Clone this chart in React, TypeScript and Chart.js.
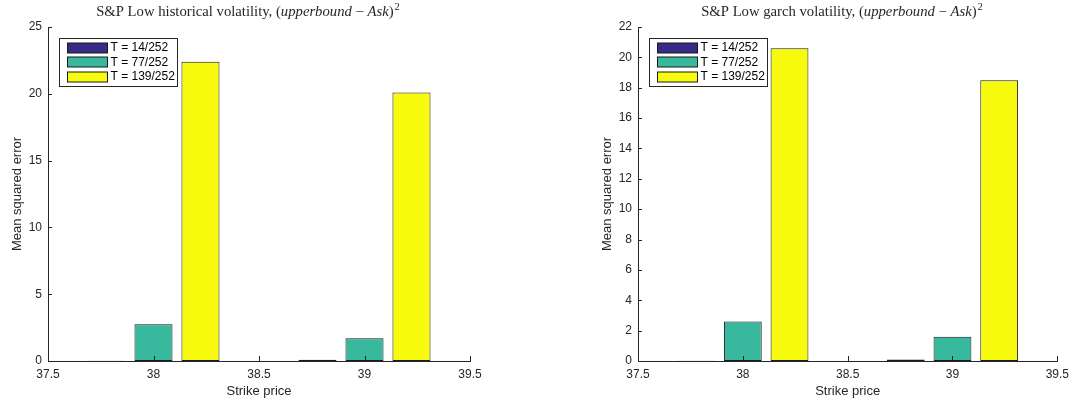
import React, { useEffect, useRef } from "react";
import { Chart, registerables } from "chart.js";

Chart.register(...registerables);

// ---- data ----
const strikes = [38, 39];
const seriesLabels = ["T = 14/252", "T = 77/252", "T = 139/252"];
const seriesColors = ["#352A87", "#38B89C", "#F9FB0E"];

const histT14 = [0.02, 0.1];
const histT77 = [2.75, 1.7];
const histT139 = [22.4, 20.1];

const garchT14 = [0.02, 0.1];
const garchT77 = [2.6, 1.6];
const garchT139 = [20.6, 18.5];

const xMin = 37.5;
const xMax = 39.5;
const xStep = 0.5;

const histYMax = 25;
const histYStep = 5;
const garchYMax = 22;
const garchYStep = 2;

type Seg = { t: string; it?: boolean; sup?: boolean };
const histTitle: Seg[] = [
  { t: "S&P Low historical volatility, (" },
  { t: "upperbound", it: true },
  { t: " \u2212 " },
  { t: "Ask", it: true },
  { t: ")" },
  { t: "2", sup: true },
];
const garchTitle: Seg[] = [
  { t: "S&P Low garch volatility, (" },
  { t: "upperbound", it: true },
  { t: " \u2212 " },
  { t: "Ask", it: true },
  { t: ")" },
  { t: "2", sup: true },
];

const xLabel = "Strike price";
const yLabel = "Mean squared error";

const AXIS = "#262626";
const SANS = "'Liberation Sans', Arial, Helvetica, sans-serif";
const SERIF = "'Liberation Serif', 'Times New Roman', serif";

function makePlugins(title: Seg[], titleCenter: number) {
  const titlePlugin = {
    id: "mixedTitle",
    afterDraw(chart: any) {
      const ctx = chart.ctx as CanvasRenderingContext2D;
      ctx.save();
      ctx.fillStyle = AXIS;
      ctx.textBaseline = "alphabetic";
      const fontFor = (s: Seg) =>
        s.sup ? `10.5px ${SERIF}` : `${s.it ? "italic " : ""}14.7px ${SERIF}`;
      let total = 0;
      title.forEach((s) => {
        ctx.font = fontFor(s);
        total += ctx.measureText(s.t).width + (s.sup ? 1 : 0);
      });
      let x = titleCenter - total / 2;
      const base = 16;
      title.forEach((s) => {
        ctx.font = fontFor(s);
        if (s.sup) x += 1;
        ctx.fillText(s.t, x, s.sup ? base - 6 : base);
        x += ctx.measureText(s.t).width;
      });
      ctx.restore();
    },
  };

  const tickPlugin = {
    id: "inwardTicks",
    afterDatasetsDraw(chart: any) {
      const { ctx, chartArea, scales } = chart;
      const xs = scales.x;
      const ys = scales.y;
      ctx.save();
      ctx.strokeStyle = AXIS;
      ctx.lineWidth = 1;
      ctx.beginPath();
      xs.ticks.forEach((t: any) => {
        const px = Math.round(xs.getPixelForValue(t.value)) + 0.5;
        ctx.moveTo(px, chartArea.bottom);
        ctx.lineTo(px, chartArea.bottom - 5);
      });
      ys.ticks.forEach((t: any) => {
        const py = Math.round(ys.getPixelForValue(t.value)) + 0.5;
        ctx.moveTo(chartArea.left, py);
        ctx.lineTo(chartArea.left + 4, py);
      });
      ctx.stroke();
      ctx.restore();
    },
  };

  const legendPlugin = {
    id: "boxLegend",
    afterDraw(chart: any) {
      const { ctx, chartArea } = chart;
      const bx = Math.round(chartArea.left) + 11.5;
      const by = Math.round(chartArea.top) + 11.5;
      const bw = 118;
      const bh = 48;
      ctx.save();
      ctx.fillStyle = "#ffffff";
      ctx.fillRect(bx, by, bw, bh);
      ctx.strokeStyle = AXIS;
      ctx.lineWidth = 1;
      ctx.strokeRect(bx, by, bw, bh);
      ctx.font = `12px ${SANS}`;
      ctx.textBaseline = "middle";
      chart.data.datasets.forEach((ds: any, i: number) => {
        const cy = by + 9 + i * 14.5;
        const sx = bx + 8;
        ctx.fillStyle = ds.backgroundColor;
        ctx.fillRect(sx, Math.round(cy - 5), 40, 10);
        ctx.strokeStyle = "#1a1a1a";
        ctx.strokeRect(sx, Math.round(cy - 5), 40, 10);
        ctx.fillStyle = "#000000";
        ctx.fillText(ds.label, sx + 43, cy + 0.5);
      });
      ctx.restore();
    },
  };

  return [titlePlugin, tickPlugin, legendPlugin];
}

type PanelProps = {
  left: number;
  width: number;
  padRight: number;
  title: Seg[];
  titleCenter: number;
  yMax: number;
  yStep: number;
  s14: number[];
  s77: number[];
  s139: number[];
};

function BarPanel(p: PanelProps) {
  const ref = useRef<HTMLCanvasElement | null>(null);
  useEffect(() => {
    if (!ref.current) return;
    const series = [p.s14, p.s77, p.s139];
    const chart = new Chart(ref.current, {
      type: "bar",
      data: {
        labels: strikes as any,
        datasets: series.map((d, i) => ({
          label: seriesLabels[i],
          data: d,
          backgroundColor: seriesColors[i],
          borderColor: "#1a1a1a",
          borderWidth: 1,
          borderSkipped: false,
          categoryPercentage: 1.336,
          barPercentage: 0.81,
        })),
      },
      options: {
        responsive: false,
        animation: false,
        layout: { padding: { top: 27, right: p.padRight, left: 0, bottom: 0 } },
        scales: {
          x: {
            type: "linear",
            min: xMin,
            max: xMax,
            offset: false,
            grid: { display: false, drawTicks: false },
            border: { display: true, color: AXIS, width: 1 },
            ticks: {
              stepSize: xStep,
              padding: 6,
              color: AXIS,
              font: { family: SANS, size: 12 },
              callback: (v: any) => String(Math.round(Number(v) * 10) / 10),
            },
            title: {
              display: true,
              text: xLabel,
              color: AXIS,
              font: { family: SANS, size: 13 },
              padding: { top: 0, bottom: 6 },
            },
            afterFit: (s: any) => {
              s.height = 44;
            },
          },
          y: {
            min: 0,
            max: p.yMax,
            grid: { display: false, drawTicks: false },
            border: { display: true, color: AXIS, width: 1 },
            ticks: {
              stepSize: p.yStep,
              padding: 6,
              color: AXIS,
              font: { family: SANS, size: 12 },
              autoSkip: false,
            },
            title: {
              display: true,
              text: yLabel,
              color: AXIS,
              font: { family: SANS, size: 13 },
              padding: { top: 10, bottom: 0 },
            },
            afterFit: (s: any) => {
              s.width = 48;
            },
          },
        },
        plugins: {
          legend: { display: false },
          tooltip: { enabled: false },
          title: { display: false },
        },
      } as any,
      plugins: makePlugins(p.title, p.titleCenter) as any,
    });
    return () => chart.destroy();
  }, []);
  return (
    <canvas
      ref={ref}
      width={p.width}
      height={405}
      style={{ position: "absolute", left: p.left, top: 0, width: p.width, height: 405 }}
    />
  );
}

export default function App() {
  return (
    <div
      style={{
        position: "fixed",
        left: 0,
        top: 0,
        width: 1075,
        height: 405,
        background: "#ffffff",
        overflow: "hidden",
      }}
    >
      <BarPanel
        left={0}
        width={537}
        padRight={67}
        title={histTitle}
        titleCenter={248}
        yMax={histYMax}
        yStep={histYStep}
        s14={histT14}
        s77={histT77}
        s139={histT139}
      />
      <BarPanel
        left={590}
        width={485}
        padRight={14}
        title={garchTitle}
        titleCenter={252}
        yMax={garchYMax}
        yStep={garchYStep}
        s14={garchT14}
        s77={garchT77}
        s139={garchT139}
      />
    </div>
  );
}
